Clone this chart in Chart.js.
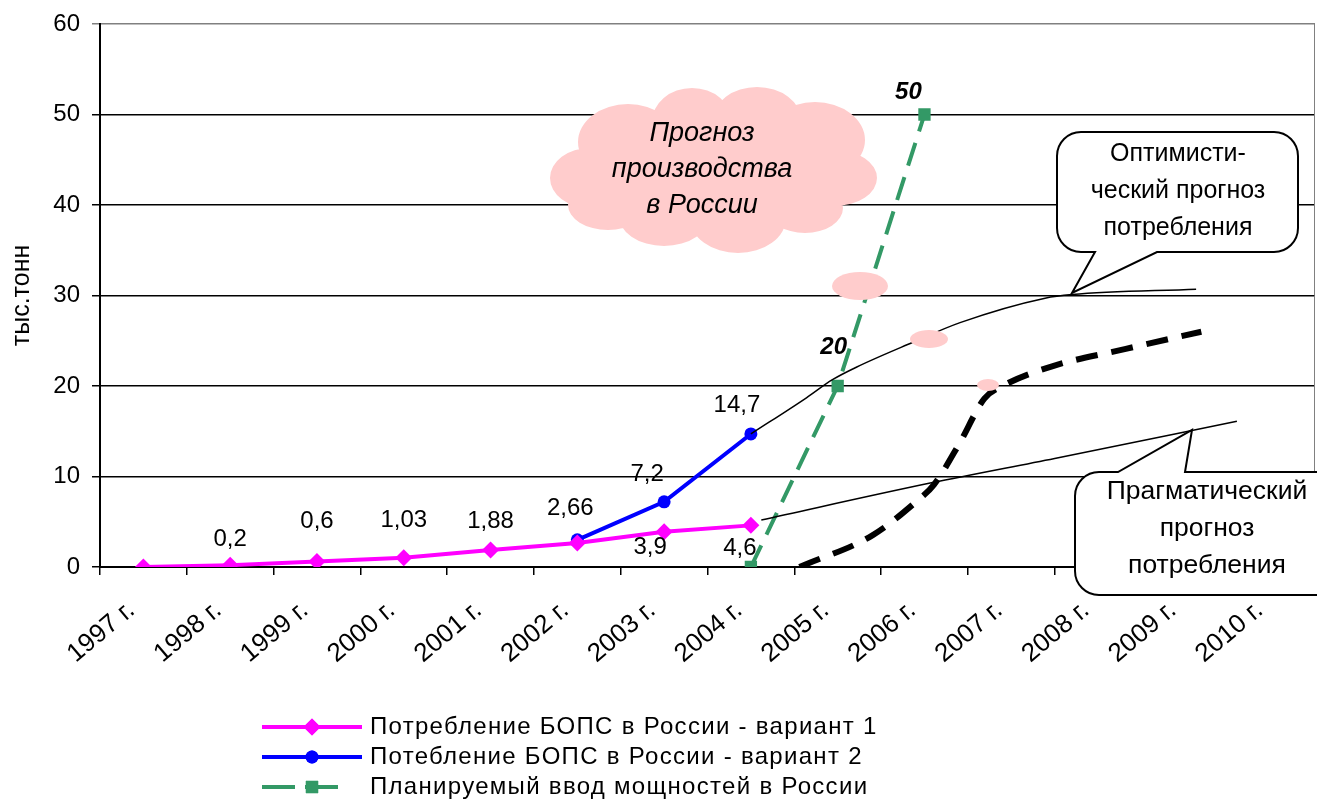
<!DOCTYPE html>
<html lang="ru">
<head>
<meta charset="utf-8">
<title>Потребление БОПС в России</title>
<script src="https://cdn.jsdelivr.net/npm/chart.js@4.4.1/dist/chart.umd.min.js"></script>
<style>
  html, body { margin: 0; padding: 0; background: #fff; overflow: hidden; }
  #wrap { width: 1317px; height: 801px; }
  canvas { display: block; }
</style>
</head>
<body>
<div id="wrap"><canvas id="chart" width="1317" height="801"></canvas></div>
<script>
// --- data ---
const years = ['1997 г.', '1998 г.', '1999 г.', '2000 г.', '2001 г.', '2002 г.', '2003 г.',
  '2004 г.', '2005 г.', '2006 г.', '2007 г.', '2008 г.', '2009 г.', '2010 г.'];
const consumption1 = [0, 0.2, 0.6, 1.03, 1.88, 2.66, 3.9, 4.6, null, null, null, null, null, null];
const consumption2 = [null, null, null, null, null, 3.0, 7.2, 14.7, null, null, null, null, null, null];
const plannedCapacity = [null, null, null, null, null, null, null, 0, 20, 50, null, null, null, null];

// hand-drawn forecast curves (x = position in years from 1997)
const optimisticX = [7.0, 7.64, 7.94, 8.22, 8.86, 9.41, 10.39, 10.7, 12.13];
const optimisticY = [14.7, 18.7, 20.7, 22.1, 24.8, 27.0, 29.7, 30.1, 30.7];
const pragmaticX = [7.12, 9.08, 10.5, 12.6];
const pragmaticY = [5.2, 9.3, 12.0, 16.1];
const productionX = [7.56, 8.4, 8.89, 9.11, 9.4, 9.69, 9.9, 10.48, 11.32, 12.19];
const productionY = [0, 3.5, 7.1, 9.1, 13.6, 18.6, 20.0, 22.2, 24.1, 26.0];

const yTicks = [0, 10, 20, 30, 40, 50, 60];

// label shifts from the point, px
const shift1 = [null, [0, -26], [0, -40], [0, -37], [0, -29], [-7, -35], [-14, 16], [-11, 23]];
const shift2 = [null, null, null, null, null, null, [-17, -27], [-14, -29]];
const shift3 = [null, null, null, null, null, null, null, null, [-4, -39], [-16, -22]];

const FONT = '"Liberation Sans", Arial, sans-serif';
Chart.defaults.font.family = FONT;
Chart.defaults.color = '#000';

const toXY = (xs, ys) => xs.map((x, i) => ({ x: x, y: ys[i] }));
const fmt = v => String(v).replace('.', ',');

const frame = {
  id: 'frame',
  beforeDatasetsDraw(chart) {
    const { ctx, chartArea: a } = chart;
    ctx.save();
    ctx.strokeStyle = '#808080';
    ctx.lineWidth = 1;
    ctx.beginPath();
    ctx.moveTo(a.right - 0.5, a.top);
    ctx.lineTo(a.right - 0.5, a.bottom);
    ctx.stroke();
    ctx.restore();
  }
};

function roundBox(ctx, l, t, r, b, rad, ptr) {
  ctx.beginPath();
  ctx.moveTo(l + rad, t);
  if (ptr.side === 'top') {
    ctx.lineTo(ptr.a, t); ctx.lineTo(ptr.tx, ptr.ty); ctx.lineTo(ptr.b, t);
  }
  ctx.lineTo(r - rad, t);
  ctx.arcTo(r, t, r, t + rad, rad);
  ctx.lineTo(r, b - rad);
  ctx.arcTo(r, b, r - rad, b, rad);
  if (ptr.side === 'bottom') {
    ctx.lineTo(ptr.b, b); ctx.lineTo(ptr.tx, ptr.ty); ctx.lineTo(ptr.a, b);
  }
  ctx.lineTo(l + rad, b);
  ctx.arcTo(l, b, l, b - rad, rad);
  ctx.lineTo(l, t + rad);
  ctx.arcTo(l, t, l + rad, t, rad);
  ctx.closePath();
}

const notes = {
  cloud: [[590, 178, 40, 30], [628, 142, 50, 38], [692, 122, 40, 34], [757, 120, 44, 33],
    [815, 140, 50, 38], [835, 178, 42, 28], [805, 208, 38, 25], [738, 218, 48, 35],
    [664, 214, 46, 32], [608, 205, 40, 25], [713, 170, 125, 60]],
  puffs: [[860, 286, 28, 14], [929, 339, 19, 9], [988, 385, 11, 6]],
  cloudText: { x: 702, y: 133, step: 36, lines: ['Прогноз', 'производства', 'в России'] },
  optimistic: { box: [1057, 132, 1298, 252, 24], ptr: { side: 'bottom', a: 1095, b: 1157, tx: 1072, ty: 293 },
    x: 1178, y: 154, step: 37, size: 25, lines: ['Оптимисти-', 'ческий прогноз', 'потребления'] },
  pragmatic: { box: [1075, 472, 1345, 595, 24], ptr: { side: 'top', a: 1118, b: 1185, tx: 1192, ty: 430 },
    x: 1207, y: 492, step: 37, size: 26.5, lines: ['Прагматический', 'прогноз', 'потребления'] }
};

const decorations = {
  id: 'decorations',
  afterDatasetsDraw(chart) {
    const ctx = chart.ctx;
    ctx.save();
    // value labels
    ctx.textAlign = 'center';
    ctx.textBaseline = 'middle';
    const series = [[0, shift1, 'normal 24px ' + FONT], [1, shift2, 'normal 24px ' + FONT],
      [2, shift3, 'italic bold 24px ' + FONT]];
    series.forEach(([di, shifts, font]) => {
      const meta = chart.getDatasetMeta(di);
      const vals = chart.data.datasets[di].data;
      ctx.font = font;
      ctx.fillStyle = '#000';
      meta.data.forEach((pt, i) => {
        if (!shifts[i] || vals[i] == null) return;
        ctx.fillText(fmt(vals[i]), pt.x + shifts[i][0], pt.y + shifts[i][1]);
      });
    });

    // cloud and thought puffs
    ctx.fillStyle = '#FFCCCC';
    ctx.beginPath();
    notes.cloud.forEach(([x, y, rx, ry]) => {
      ctx.moveTo(x + rx, y);
      ctx.ellipse(x, y, rx, ry, 0, 0, Math.PI * 2);
    });
    ctx.fill();
    notes.puffs.forEach(([x, y, rx, ry]) => {
      ctx.beginPath();
      ctx.ellipse(x, y, rx, ry, 0, 0, Math.PI * 2);
      ctx.fill();
    });
    ctx.fillStyle = '#000';
    ctx.font = 'italic 27px ' + FONT;
    const ct = notes.cloudText;
    ct.lines.forEach((s, i) => ctx.fillText(s, ct.x, ct.y + i * ct.step));

    // callouts
    [notes.optimistic, notes.pragmatic].forEach(n => {
      const [l, t, r, b, rad] = n.box;
      roundBox(ctx, l, t, r, b, rad, n.ptr);
      ctx.fillStyle = '#fff';
      ctx.fill();
      ctx.strokeStyle = '#000';
      ctx.lineWidth = 2;
      ctx.stroke();
      ctx.fillStyle = '#000';
      ctx.font = n.size + 'px ' + FONT;
      n.lines.forEach((s, i) => ctx.fillText(s, n.x, n.y + i * n.step));
    });
    ctx.restore();
  }
};

const legendRows = {
  id: 'legendRows',
  afterDraw(chart) {
    const ctx = chart.ctx;
    const rowsY = [727, 757, 787];
    ctx.save();
    chart.data.datasets.slice(0, 3).forEach((ds, i) => {
      const y = rowsY[i];
      ctx.strokeStyle = ds.borderColor;
      ctx.lineWidth = ds.borderWidth;
      ctx.setLineDash(ds.borderDash ? [33, 10] : []);
      ctx.beginPath();
      ctx.moveTo(262, y);
      ctx.lineTo(ds.borderDash ? 348 : 362, y);
      ctx.stroke();
      ctx.setLineDash([]);
      ctx.fillStyle = ds.pointBackgroundColor;
      Chart.helpers.drawPoint(ctx, {
        pointStyle: ds.pointStyle, radius: ds.pointRadius, rotation: 0, borderWidth: 0
      }, 312, y);
      ctx.fill();
      ctx.fillStyle = '#000';
      ctx.font = '24px ' + FONT;
      ctx.letterSpacing = '1.3px';
      ctx.textAlign = 'left';
      ctx.textBaseline = 'middle';
      ctx.fillText(ds.label, 370, y);
      ctx.letterSpacing = '0px';
    });
    ctx.restore();
  }
};

new Chart(document.getElementById('chart'), {
  type: 'line',
  data: {
    labels: years,
    datasets: [
      {
        label: 'Потребление БОПС в России - вариант 1',
        data: consumption1,
        borderColor: '#FF00FF', backgroundColor: '#FF00FF', pointBackgroundColor: '#FF00FF',
        borderWidth: 4, pointStyle: 'rectRot', pointRadius: 8.5, pointBorderWidth: 0
      },
      {
        label: 'Потебление БОПС в России - вариант 2',
        data: consumption2,
        borderColor: '#0000FF', backgroundColor: '#0000FF', pointBackgroundColor: '#0000FF',
        borderWidth: 4, pointStyle: 'circle', pointRadius: 6.5, pointBorderWidth: 0
      },
      {
        label: 'Планируемый ввод мощностей в России',
        data: plannedCapacity,
        borderColor: '#339966', backgroundColor: '#339966', pointBackgroundColor: '#339966',
        borderWidth: 4, borderDash: [24, 12], pointStyle: 'rect', pointRadius: 8.7, pointBorderWidth: 0
      },
      {
        label: 'optimistic', xAxisID: 'xf', order: -1,
        data: toXY(optimisticX, optimisticY),
        borderColor: '#000', borderWidth: 1.5, pointRadius: 0, cubicInterpolationMode: 'monotone'
      },
      {
        label: 'pragmatic', xAxisID: 'xf', order: -1,
        data: toXY(pragmaticX, pragmaticY),
        borderColor: '#000', borderWidth: 1.5, pointRadius: 0, cubicInterpolationMode: 'monotone'
      },
      {
        label: 'production', xAxisID: 'xf',
        data: toXY(productionX, productionY),
        borderColor: '#000', borderWidth: 6, borderDash: [22, 14], pointRadius: 0,
        cubicInterpolationMode: 'monotone'
      }
    ]
  },
  options: {
    responsive: false,
    animation: false,
    events: [],
    layout: { autoPadding: false, padding: { top: 24, right: 2, left: 0, bottom: 0 } },
    plugins: { legend: { display: false }, tooltip: { enabled: false } },
    scales: {
      x: {
        type: 'category',
        offset: true,
        grid: { offset: true, drawOnChartArea: false, drawTicks: true, tickLength: 8, color: '#000', lineWidth: 1.5 },
        border: { color: '#000', width: 2 },
        ticks: { maxRotation: 40, minRotation: 40, labelOffset: -12, font: { size: 26 }, color: '#000', padding: 20, autoSkip: false },
        afterFit: s => { s.height = 234; s.paddingLeft = 0; s.paddingRight = 0; }
      },
      xf: {
        type: 'linear', display: false, min: -0.5, max: 13.5
      },
      y: {
        min: 0, max: 60,
        afterBuildTicks: s => { s.ticks = yTicks.map(v => ({ value: v })); },
        grid: {
          color: c => (c.tick && c.tick.value === 60 ? '#808080' : '#000'),
          lineWidth: 1.5, tickLength: 8
        },
        border: { color: '#000', width: 2 },
        ticks: { font: { size: 24 }, color: '#000', padding: 12 },
        title: { display: true, text: 'тыс.тонн', font: { size: 25 }, color: '#000', padding: { top: 7 } },
        afterFit: s => { s.width = 100; s.paddingTop = 0; s.paddingBottom = 0; }
      }
    }
  },
  plugins: [frame, decorations, legendRows]
});
</script>
</body>
</html>
